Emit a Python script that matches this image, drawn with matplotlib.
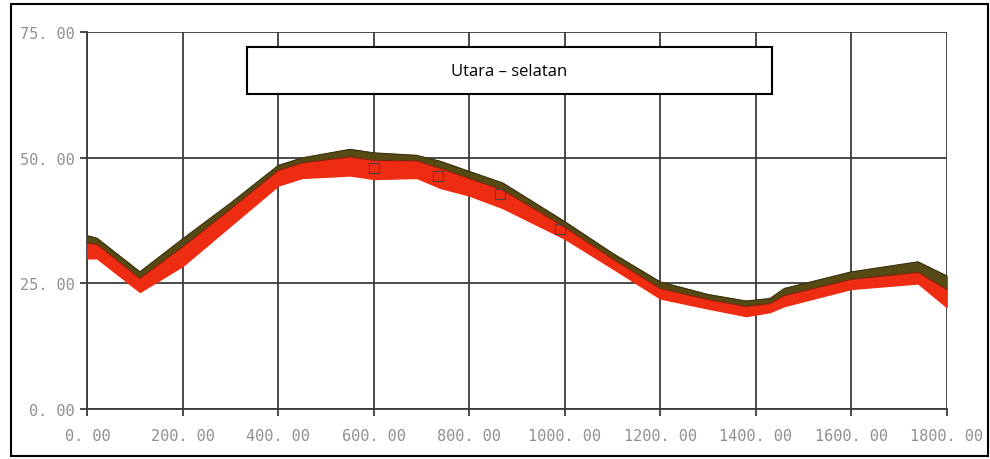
import numpy as np
import matplotlib.pyplot as plt
from matplotlib.patches import Rectangle

# profile utara - selatan
jarak = [0, 20, 110, 200, 300, 400, 450, 550, 600, 690, 740, 800, 870,
         1000, 1100, 1200, 1300, 1380, 1430, 1460, 1600, 1740, 1800]
atas = [34.5, 34.0, 27.3, 33.9, 41.0, 48.5, 50.0, 51.7, 51.0, 50.5, 49.3, 47.3, 45.0,
        37.3, 31.0, 25.3, 22.8, 21.5, 22.0, 24.0, 27.3, 29.3, 26.5]
tengah = [33.0, 32.8, 26.0, 32.3, 39.8, 47.5, 49.0, 50.2, 49.5, 49.4, 47.9, 45.9, 43.6,
          36.2, 29.9, 24.0, 21.8, 20.4, 21.0, 22.6, 25.8, 27.2, 23.8]
bawah = [30.0, 30.0, 23.3, 28.5, 36.5, 44.5, 46.0, 46.5, 45.8, 46.0, 44.0, 42.5, 40.0,
         33.9, 28.0, 22.0, 20.0, 18.5, 19.3, 20.5, 23.9, 25.0, 20.3]

titik_x = [600, 735, 865, 990]
titik_y = [47.9, 46.3, 42.9, 35.9]

xticks = [0, 200, 400, 600, 800, 1000, 1200, 1400, 1600, 1800]
yticks = [0, 25, 50, 75]

fig = plt.figure(figsize=(9.9, 4.6), dpi=100)
ax = fig.add_axes([0.0882, 0.1087, 0.868, 0.8189])

ax.fill_between(jarak, tengah, atas, color='#564a14', zorder=3)
ax.fill_between(jarak, bawah, tengah, color='#ee2c12', zorder=3)
ax.plot(jarak, atas, color='#3a300e', lw=0.8, zorder=4)
ax.plot(jarak, tengah, color='#7a2410', lw=0.8, zorder=4)
ax.plot(titik_x, titik_y, 's', ms=7, mfc='none', mec='#444444', mew=0.8, zorder=5)

ax.set_xlim(0, 1800)
ax.set_ylim(0, 75)
ax.set_xticks(xticks)
ax.set_yticks(yticks)
ax.set_xticklabels([f"{v}. 00" for v in xticks])
ax.set_yticklabels([f"{v}. 00" for v in yticks])
ax.grid(True, color='#3c3c3c', lw=1.3, zorder=1)
ax.set_axisbelow(True)
for s in ['top', 'right']:
    ax.spines[s].set_visible(False)
for s in ['left', 'bottom']:
    ax.spines[s].set_color('#3c3c3c')
    ax.spines[s].set_linewidth(1.3)
ax.tick_params(length=5, width=1.3, color='#3c3c3c', labelcolor='#909090',
               labelsize=11, pad=4)
ax.tick_params(axis='x', pad=9)
for lab in ax.get_xticklabels() + ax.get_yticklabels():
    lab.set_family('DejaVu Sans Mono')

# judul di dalam kotak
fig.patches.append(Rectangle((0.2495, 0.7935), 0.530, 0.102, transform=fig.transFigure,
                             facecolor='white', edgecolor='black', lw=1.5, zorder=10))
fig.text(0.5146, 0.8435, "Utara \u2013 selatan", ha='center', va='center',
         fontsize=12, family='Open Sans', zorder=11)

# bingkai luar
fig.patches.append(Rectangle((0.011, 0.006), 0.987, 0.984, transform=fig.transFigure,
                             facecolor='none', edgecolor='black', lw=1.5))

fig.savefig('out.png', dpi=100)
